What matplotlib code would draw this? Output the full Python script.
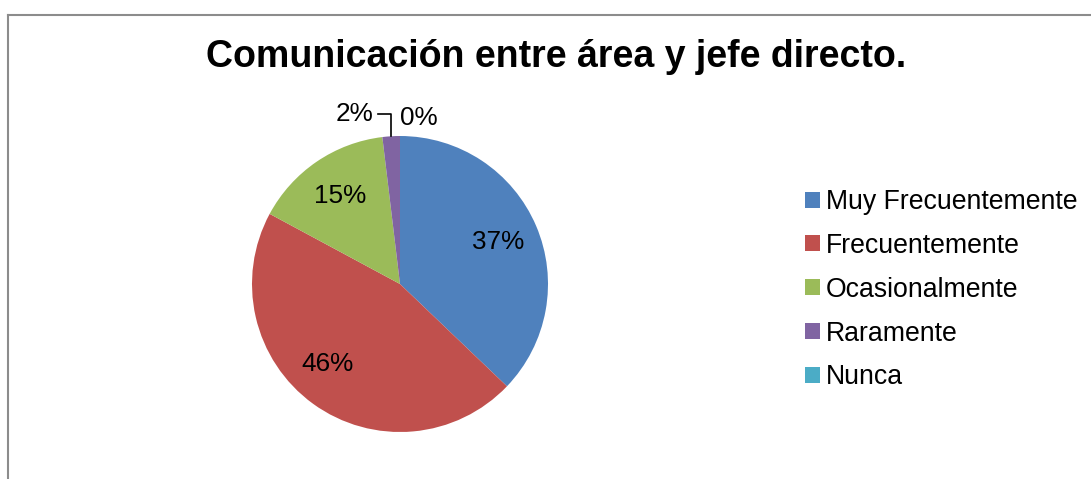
import matplotlib
matplotlib.use('Agg')
import matplotlib.pyplot as plt
from matplotlib.patches import Patch
from matplotlib.lines import Line2D
import numpy as np

plt.rcParams['font.family'] = ['Liberation Sans', 'DejaVu Sans']

TITLE = 'Comunicación entre área y jefe directo.'
CATEGORIES = ['Muy Frecuentemente', 'Frecuentemente', 'Ocasionalmente', 'Raramente', 'Nunca']
COUNTS = [39, 48, 16, 2, 0]
COLORS = ['#4F81BD', '#C0504D', '#9BBB59', '#8064A2', '#4BACC6']

W, H = 1091, 479
fig = plt.figure(figsize=(W / 100, H / 100), dpi=100)

# chart frame (cut off on the right and bottom)
frame_c = '#8c8c8c'
fig.add_artist(Line2D([8 / W, 8 / W], [0, 1 - 15 / H], color=frame_c, lw=1.5))
fig.add_artist(Line2D([8 / W, 1], [1 - 15 / H, 1 - 15 / H], color=frame_c, lw=1.5))

fig.text(0.510, 1 - 67 / H, TITLE, ha='center', va='baseline',
         fontsize=27, fontweight='bold')

# ── Pie ──
lim = 1.25
half = 148 * lim
ax = fig.add_axes([(400 - half) / W, (H - 284 - half) / H, 2 * half / W, 2 * half / H])
wedges, _, autotexts = ax.pie(COUNTS, colors=COLORS, startangle=90, counterclock=False,
                              autopct='%.0f%%', pctdistance=0.72,
                              textprops=dict(fontsize=18.8, color='black'),
                              wedgeprops=dict(linewidth=0))
ax.set_xlim(-lim, lim)
ax.set_ylim(-lim, lim)

total = sum(COUNTS)
big = int(np.argmax(COUNTS))
for i, (w, t, v) in enumerate(zip(wedges, autotexts, COUNTS)):
    mid = np.deg2rad((w.theta1 + w.theta2) / 2)
    if v / total >= 0.05:
        if i == big:
            # Excel nudges this label a little further round the slice
            a = mid - np.deg2rad(6)
            t.set_position((0.73 * np.cos(a), 0.73 * np.sin(a)))
        continue
    # small slices get their labels outside, on top
    xw = np.cos(mid)
    if v > 0:
        t.set_position((-0.18, 1.101))
        t.set_ha('right')
        t.set_va('baseline')
        ax.plot([-0.149, xw, xw], [1.149, 1.149, np.sin(mid)],
                color='black', lw=1.2, clip_on=False)
    else:
        t.set_position((xw, 1.074))
        t.set_ha('left')
        t.set_va('baseline')

# ── Legend ──
handles = [Patch(facecolor=c, edgecolor='none') for c in COLORS]
fig.legend(handles, CATEGORIES, loc='upper left',
           bbox_to_anchor=(805 / W, 1 - 189 / H), frameon=False,
           fontsize=19.2, handlelength=0.55, handleheight=0.55,
           handletextpad=0.22, labelspacing=0.67, borderpad=0, borderaxespad=0)

fig.savefig('out.png', dpi=100)
